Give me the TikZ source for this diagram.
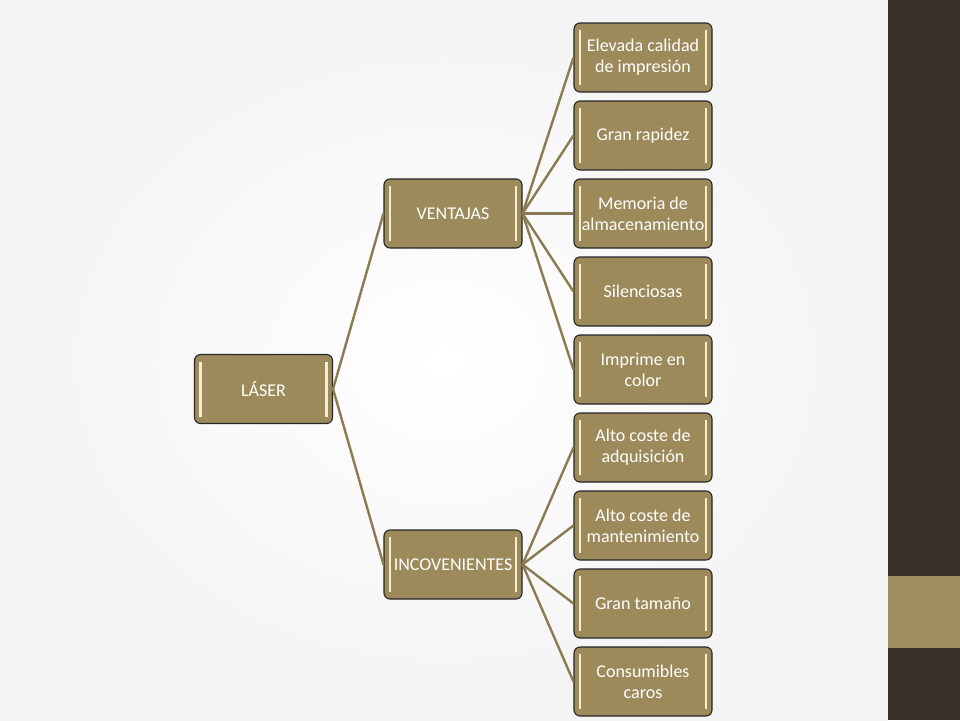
\documentclass[tikz,border=0pt]{standalone}
\usepackage{fontspec}
\setmainfont{Carlito}
\usetikzlibrary{positioning}
\definecolor{oro}{HTML}{9C8A5A}
\definecolor{linea}{HTML}{8A7B50}
\definecolor{crema}{HTML}{F4EDCF}
\definecolor{oscuro}{HTML}{38312B}
\definecolor{banda}{HTML}{A08F5F}

\begin{document}
\begin{tikzpicture}[x=1pt,y=-1pt,node distance=78pt,on grid,
      every node/.style={font=\fontsize{18}{21}\selectfont,text=white},
      box/.style={draw=black!85,line width=1.1pt,fill=oro,rounded corners=6pt,
        minimum width=138pt,minimum height=69pt,align=center,inner sep=0pt,
        path picture={
          \draw[crema,line width=2.2pt]
            ([xshift=6pt,yshift=-7pt]path picture bounding box.north west) --
            ([xshift=6pt,yshift=7pt]path picture bounding box.south west);
          \draw[crema,line width=2.2pt]
            ([xshift=-6pt,yshift=-7pt]path picture bounding box.north east) --
            ([xshift=-6pt,yshift=7pt]path picture bounding box.south east);}},
      rama/.style={draw=linea,line width=2.4pt}]
      % fondo
      \useasboundingbox (0,0) rectangle (960,720);
      \shade[inner color=white,outer color=gray!9] (0,0) rectangle (888,720);
      \fill[oscuro] (888,0) rectangle (960,720);
      \fill[banda] (888,576) rectangle (960,648);
      % hojas
      \node[box] (l1) at (643,57.5) {Elevada calidad\\de impresión};
      \node[box] (l2) [below=of l1] {Gran rapidez};
      \node[box] (l3) [below=of l2] {Memoria de\\\makebox[118pt]{almacenamiento}};
      \node[box] (l4) [below=of l3] {Silenciosas};
      \node[box] (l5) [below=of l4] {Imprime en\\color};
      \node[box] (l6) [below=of l5] {Alto coste de\\adquisición};
      \node[box] (l7) [below=of l6] {Alto coste de\\mantenimiento};
      \node[box] (l8) [below=of l7] {Gran tamaño};
      \node[box] (l9) [below=of l8] {Consumibles\\caros};
      % padres
      \node[box] (ventajas) [left=190pt of l3] {VENTAJAS};
      \node[box] (incov) at (453,564.5) {\makebox[118pt]{INCOVENIENTES}};
      \node[box] (laser) at (263.5,389) {LÁSER};
      % ramas
      \draw[rama] (laser.east) -- (ventajas.west);
      \draw[rama] (laser.east) -- (incov.west);
      \draw[rama] (ventajas.east) -- (l1.west);
      \draw[rama] (ventajas.east) -- (l2.west);
      \draw[rama] (ventajas.east) -- (l3.west);
      \draw[rama] (ventajas.east) -- (l4.west);
      \draw[rama] (ventajas.east) -- (l5.west);
      \draw[rama] (incov.east) -- (l6.west);
      \draw[rama] (incov.east) -- (l7.west);
      \draw[rama] (incov.east) -- (l8.west);
      \draw[rama] (incov.east) -- (l9.west);
\end{tikzpicture}
\end{document}
